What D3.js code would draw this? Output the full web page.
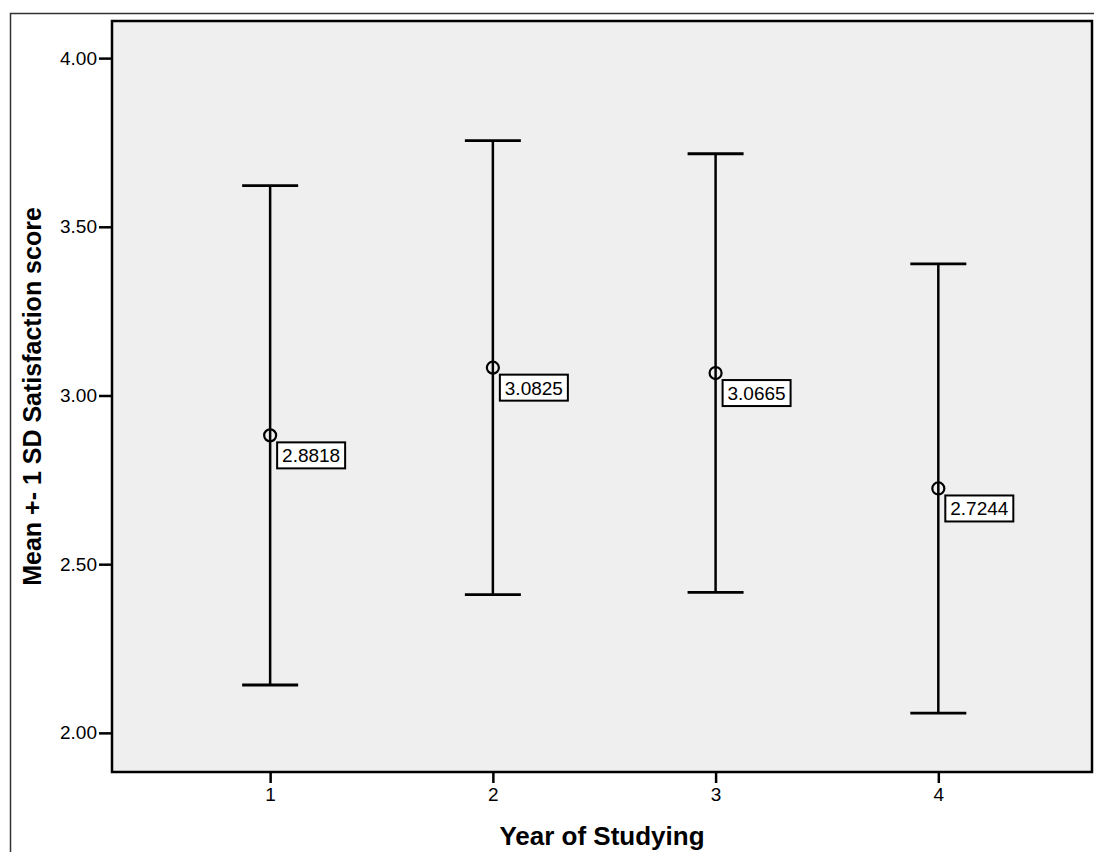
<!DOCTYPE html>
<html>
<head>
<meta charset="utf-8">
<script src="https://cdn.jsdelivr.net/npm/d3@7"></script>
<style>
  html, body { margin: 0; padding: 0; background: #fff; }
  svg { display: block; font-family: "Liberation Sans", Arial, sans-serif; }
</style>
</head>
<body>
<svg id="chart" width="1094" height="852"></svg>
<script>
// Year of study groups, group means and standard deviations
const years = [1, 2, 3, 4];
const means = [2.8818, 3.0825, 3.0665, 2.7244];
const sds = [0.740, 0.673, 0.650, 0.666];
const yTicks = [2.00, 2.50, 3.00, 3.50, 4.00];

const svg = d3.select("#chart");
const W = 1094, H = 852;
const plot = { left: 112, top: 21, right: 1092, bottom: 772 };

const x = d3.scaleLinear().domain([0.29, 4.69]).range([plot.left, plot.right]);
const y = d3.scaleLinear().domain([1.884, 4.11]).range([plot.bottom, plot.top]);

// outer frame
svg.append("rect")
  .attr("x", 10.5).attr("y", 13.5)
  .attr("width", W + 10).attr("height", H + 10)
  .attr("fill", "none").attr("stroke", "#333").attr("stroke-width", 1.5);

// plot background
svg.append("rect")
  .attr("x", plot.left).attr("y", plot.top)
  .attr("width", plot.right - plot.left).attr("height", plot.bottom - plot.top)
  .attr("fill", "#efefef");

// axes
const yAxis = d3.axisLeft(y).tickValues(yTicks).tickFormat(d3.format(".2f")).tickSize(13).tickPadding(2);
const xAxis = d3.axisBottom(x).tickValues(years).tickFormat(d3.format("d")).tickSize(11).tickPadding(5);

const gy = svg.append("g").attr("transform", `translate(${plot.left},0)`).call(yAxis);
const gx = svg.append("g").attr("transform", `translate(0,${plot.bottom})`).call(xAxis);
[gy, gx].forEach(g => {
  g.attr("font-size", null).attr("font-family", null);
  g.select(".domain").remove();
  g.selectAll(".tick line").attr("stroke", "#000").attr("stroke-width", 2.5);
  g.selectAll(".tick text").attr("fill", "#000").style("font-size", "19px");
});

// plot border
svg.append("rect")
  .attr("x", plot.left).attr("y", plot.top)
  .attr("width", plot.right - plot.left).attr("height", plot.bottom - plot.top)
  .attr("fill", "none").attr("stroke", "#000").attr("stroke-width", 2.5);

// error bars: mean ± 1 SD
const data = years.map((yr, i) => ({ yr, mean: means[i], sd: sds[i] }));
const capHalf = 28;
const bars = svg.append("g").selectAll("g").data(data).join("g");

bars.append("line")
  .attr("x1", d => x(d.yr)).attr("x2", d => x(d.yr))
  .attr("y1", d => y(d.mean + d.sd)).attr("y2", d => y(d.mean - d.sd))
  .attr("stroke", "#000").attr("stroke-width", 2.5);
bars.append("line")
  .attr("x1", d => x(d.yr) - capHalf).attr("x2", d => x(d.yr) + capHalf)
  .attr("y1", d => y(d.mean + d.sd)).attr("y2", d => y(d.mean + d.sd))
  .attr("stroke", "#000").attr("stroke-width", 2.8);
bars.append("line")
  .attr("x1", d => x(d.yr) - capHalf).attr("x2", d => x(d.yr) + capHalf)
  .attr("y1", d => y(d.mean - d.sd)).attr("y2", d => y(d.mean - d.sd))
  .attr("stroke", "#000").attr("stroke-width", 2.8);
bars.append("circle")
  .attr("cx", d => x(d.yr)).attr("cy", d => y(d.mean)).attr("r", 6)
  .attr("fill", "none").attr("stroke", "#000").attr("stroke-width", 2.2);

// value labels
const lab = bars.append("g")
  .attr("transform", d => `translate(${x(d.yr) + 7},${y(d.mean) + 7})`);
lab.append("rect")
  .attr("width", 68).attr("height", 26)
  .attr("fill", "#fff").attr("stroke", "#000").attr("stroke-width", 2);
lab.append("text")
  .attr("x", 34).attr("y", 20).attr("text-anchor", "middle")
  .style("font-size", "19px").attr("fill", "#000")
  .text(d => d.mean.toFixed(4));

// axis titles
svg.append("text")
  .attr("x", (plot.left + plot.right) / 2).attr("y", 845)
  .attr("text-anchor", "middle")
  .style("font-size", "26px").style("font-weight", "bold")
  .text("Year of Studying");
svg.append("text")
  .attr("transform", `translate(41,${(plot.top + plot.bottom) / 2}) rotate(-90)`)
  .attr("text-anchor", "middle")
  .style("font-size", "25px").style("font-weight", "bold")
  .text("Mean +- 1 SD Satisfaction score");
</script>
</body>
</html>
